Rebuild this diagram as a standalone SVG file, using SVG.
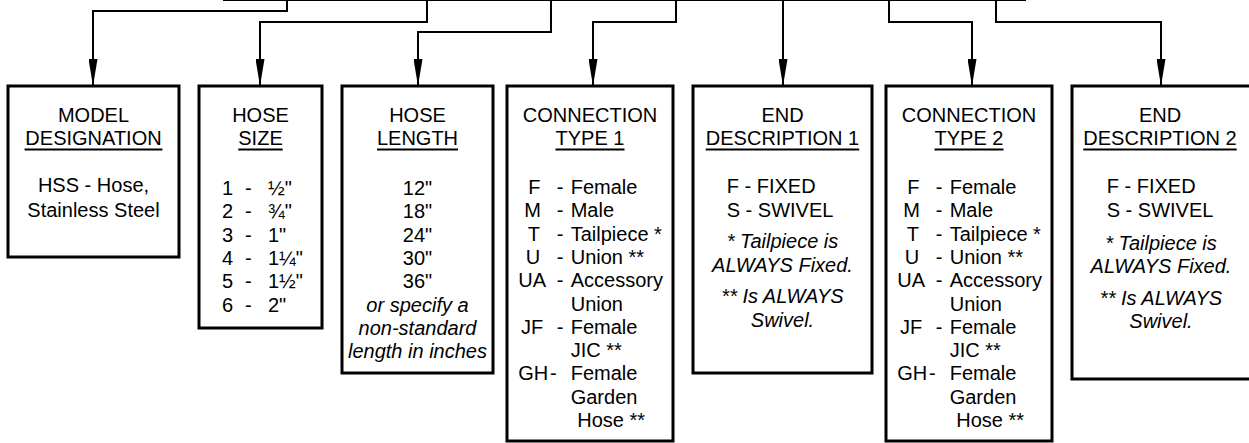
<svg xmlns="http://www.w3.org/2000/svg" width="1249" height="443" viewBox="0 0 1249 443">
<style>
.t{font-family:"Liberation Sans",Arial,sans-serif;font-size:20px;fill:#000}
.i{font-style:italic}
.c{text-anchor:middle}
.box{fill:#fff;stroke:#000;stroke-width:3}
.conn{fill:none;stroke:#000;stroke-width:2}
.ul{stroke:#000;stroke-width:1.8}
</style>
<defs>
<marker id="ah" markerUnits="userSpaceOnUse" viewBox="0 0 27 9" markerWidth="27" markerHeight="9" refX="27" refY="4.5" orient="auto">
<path d="M0,0 L27,4.5 L0,9 z" fill="#000"/>
</marker>
</defs>
<g id="connectors">
<path class="conn" d="M223,0 H1026"/>
<path class="conn" marker-end="url(#ah)" d="M287,0 V11 H93 V86"/>
<path class="conn" marker-end="url(#ah)" d="M427,0 V22 H260 V86"/>
<path class="conn" marker-end="url(#ah)" d="M551,0 V32 H418 V86"/>
<path class="conn" marker-end="url(#ah)" d="M676,0 V22 H593 V86"/>
<path class="conn" marker-end="url(#ah)" d="M783,0 V86"/>
<path class="conn" marker-end="url(#ah)" d="M889,0 V22 H972 V86"/>
<path class="conn" marker-end="url(#ah)" d="M996,0 V22 H1161 V86"/>
</g>
<g id="model">
<rect class="box" x="8" y="86" width="171" height="171"/>
<text class="t c" x="93.5" y="122">MODEL</text>
<text class="t c" x="93.5" y="145">DESIGNATION</text>
<line class="ul" x1="24.6" y1="149.5" x2="162.4" y2="149.5"/>
<text class="t c" x="93.5" y="192">HSS - Hose,</text>
<text class="t c" x="93.5" y="217">Stainless Steel</text>
</g>
<g id="hose-size">
<rect class="box" x="199" y="86" width="123" height="242"/>
<text class="t c" x="260.5" y="122">HOSE</text>
<text class="t c" x="260.5" y="145">SIZE</text>
<line class="ul" x1="238.3" y1="149.5" x2="282.7" y2="149.5"/>
<text class="t" x="222" y="195">1</text><text class="t" x="245" y="195">-</text><text class="t" x="268" y="195">½"</text>
<text class="t" x="222" y="218.3">2</text><text class="t" x="245" y="218.3">-</text><text class="t" x="268" y="218.3">¾"</text>
<text class="t" x="222" y="241.6">3</text><text class="t" x="245" y="241.6">-</text><text class="t" x="268" y="241.6">1"</text>
<text class="t" x="222" y="264.9">4</text><text class="t" x="245" y="264.9">-</text><text class="t" x="268" y="264.9">1¼"</text>
<text class="t" x="222" y="288.2">5</text><text class="t" x="245" y="288.2">-</text><text class="t" x="268" y="288.2">1½"</text>
<text class="t" x="222" y="311.5">6</text><text class="t" x="245" y="311.5">-</text><text class="t" x="268" y="311.5">2"</text>
</g>
<g id="hose-length">
<rect class="box" x="342" y="86" width="151" height="287"/>
<text class="t c" x="417.5" y="122">HOSE</text>
<text class="t c" x="417.5" y="145">LENGTH</text>
<line class="ul" x1="377" y1="149.5" x2="458" y2="149.5"/>
<text class="t c" x="417.5" y="195">12"</text>
<text class="t c" x="417.5" y="218.3">18"</text>
<text class="t c" x="417.5" y="241.6">24"</text>
<text class="t c" x="417.5" y="264.9">30"</text>
<text class="t c" x="417.5" y="288.2">36"</text>
<text class="t c i" x="417.5" y="311.5">or specify a</text>
<text class="t c i" x="417.5" y="334.8">non-standard</text>
<text class="t c i" x="417.5" y="358.1">length in inches</text>
</g>
<g id="connection-type-1">
<rect class="box" x="507" y="86" width="166" height="355"/>
<text class="t c" x="590" y="122">CONNECTION</text>
<text class="t c" x="590" y="145">TYPE 1</text>
<line class="ul" x1="555.5" y1="149.5" x2="624.5" y2="149.5"/>
<text class="t" x="528.3" y="194">F</text><text class="t" x="556.7" y="194">-</text><text class="t" x="570.7" y="194">Female</text>
<text class="t" x="524.3" y="217.3">M</text><text class="t" x="556.7" y="217.3">-</text><text class="t" x="570.7" y="217.3">Male</text>
<text class="t" x="527.7" y="240.6">T</text><text class="t" x="556.7" y="240.6">-</text><text class="t" x="570.7" y="240.6">Tailpiece *</text>
<text class="t" x="525.7" y="263.9">U</text><text class="t" x="556.7" y="263.9">-</text><text class="t" x="570.7" y="263.9">Union  **</text>
<text class="t" x="518.3" y="287.2">UA</text><text class="t" x="556.7" y="287.2">-</text><text class="t" x="570.7" y="287.2">Accessory</text>
<text class="t" x="570.7" y="310.5">Union</text>
<text class="t" x="521" y="333.8">JF</text><text class="t" x="556.7" y="333.8">-</text><text class="t" x="570.7" y="333.8">Female</text>
<text class="t" x="570.7" y="357.1">JIC **</text>
<text class="t" x="518.3" y="380.4">GH</text><text class="t" x="550" y="380.4">-</text><text class="t" x="570.7" y="380.4">Female</text>
<text class="t" x="570.7" y="403.7">Garden</text>
<text class="t" x="577.3" y="427">Hose **</text>
</g>
<g id="end-description-1">
<rect class="box" x="693" y="86" width="179" height="287"/>
<text class="t c" x="782.5" y="122">END</text>
<text class="t c" x="782.5" y="145">DESCRIPTION 1</text>
<line class="ul" x1="705.8" y1="149.5" x2="859.2" y2="149.5"/>
<text class="t" x="726.7" y="193.3">F - FIXED</text>
<text class="t" x="726.7" y="216.7">S - SWIVEL</text>
<text class="t c i" x="782.5" y="248.3">* Tailpiece is</text>
<text class="t c i" x="782.5" y="271.7">ALWAYS Fixed.</text>
<text class="t c i" x="782.5" y="303.3">** Is ALWAYS</text>
<text class="t c i" x="782.5" y="326.7">Swivel.</text>
</g>
<g id="connection-type-2">
<rect class="box" x="886" y="86" width="166" height="355"/>
<text class="t c" x="969" y="122">CONNECTION</text>
<text class="t c" x="969" y="145">TYPE 2</text>
<line class="ul" x1="934.5" y1="149.5" x2="1003.5" y2="149.5"/>
<text class="t" x="907.3" y="194">F</text><text class="t" x="935.7" y="194">-</text><text class="t" x="949.7" y="194">Female</text>
<text class="t" x="903.3" y="217.3">M</text><text class="t" x="935.7" y="217.3">-</text><text class="t" x="949.7" y="217.3">Male</text>
<text class="t" x="906.7" y="240.6">T</text><text class="t" x="935.7" y="240.6">-</text><text class="t" x="949.7" y="240.6">Tailpiece *</text>
<text class="t" x="904.7" y="263.9">U</text><text class="t" x="935.7" y="263.9">-</text><text class="t" x="949.7" y="263.9">Union  **</text>
<text class="t" x="897.3" y="287.2">UA</text><text class="t" x="935.7" y="287.2">-</text><text class="t" x="949.7" y="287.2">Accessory</text>
<text class="t" x="949.7" y="310.5">Union</text>
<text class="t" x="900" y="333.8">JF</text><text class="t" x="935.7" y="333.8">-</text><text class="t" x="949.7" y="333.8">Female</text>
<text class="t" x="949.7" y="357.1">JIC **</text>
<text class="t" x="897.3" y="380.4">GH</text><text class="t" x="929" y="380.4">-</text><text class="t" x="949.7" y="380.4">Female</text>
<text class="t" x="949.7" y="403.7">Garden</text>
<text class="t" x="956.3" y="427">Hose **</text>
</g>
<g id="end-description-2">
<rect class="box" x="1072" y="86" width="179" height="293"/>
<text class="t c" x="1160" y="122">END</text>
<text class="t c" x="1160" y="145">DESCRIPTION 2</text>
<line class="ul" x1="1083.3" y1="149.5" x2="1236.7" y2="149.5"/>
<text class="t" x="1106.7" y="193.3">F - FIXED</text>
<text class="t" x="1106.7" y="216.7">S - SWIVEL</text>
<text class="t c i" x="1161" y="250">* Tailpiece is</text>
<text class="t c i" x="1161" y="273.4">ALWAYS Fixed.</text>
<text class="t c i" x="1161" y="305">** Is ALWAYS</text>
<text class="t c i" x="1161" y="328.4">Swivel.</text>
</g>
</svg>
